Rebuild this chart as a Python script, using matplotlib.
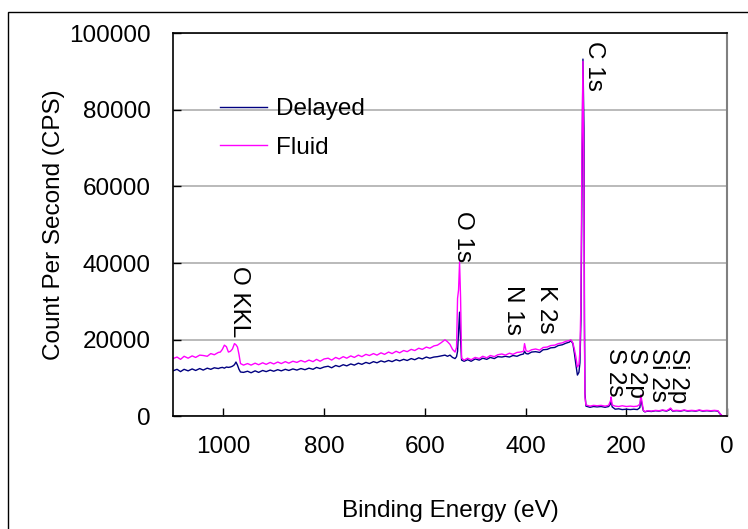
import matplotlib
matplotlib.use("Agg")
import matplotlib.pyplot as plt
from matplotlib.patches import Rectangle

plt.rcParams['font.family'] = ['Liberation Sans', 'DejaVu Sans']

# binding energy grid (eV), shared by both survey scans
binding_energy = [
    1100, 1092, 1085, 1078, 1070, 1062, 1055, 1047, 1040, 1032, 1025, 1018,
    1010, 1006, 1002, 998, 994, 990, 986, 982, 978, 975, 972, 969, 966, 960,
    952, 945, 937, 930, 922, 915, 907, 900, 892, 885, 877, 870, 862, 854,
    846, 838, 830, 822, 815, 808, 800, 792, 785, 777, 770, 762, 755, 747,
    740, 732, 725, 717, 710, 702, 695, 687, 680, 672, 665, 657, 650, 642,
    635, 627, 620, 612, 605, 597, 590, 582, 575, 568, 560, 555, 550, 545,
    540, 537, 535, 533, 531, 529, 527, 522, 515, 508, 500, 492, 485, 477,
    470, 462, 455, 447, 440, 432, 425, 417, 410, 404, 402, 399, 395, 388,
    380, 372, 365, 357, 350, 342, 335, 327, 320, 313, 310, 306, 303, 300,
    297, 294, 292, 290, 288, 286, 284, 283, 282, 280, 272, 265, 258, 250,
    242, 235, 231, 230, 228, 222, 215, 208, 200, 192, 185, 178, 173, 171,
    169, 166, 163, 158, 150, 142, 135, 128, 120, 115, 112, 108, 100, 92,
    85, 78, 70, 62, 55, 48, 40, 32, 25, 18, 14, 10, 8, 5, 0,
]

delayed_cps = [
    11900, 12300, 11700, 12300, 11900, 12400, 12000, 12500, 12100, 12600, 12300, 12700,
    12500, 12700, 12800, 12600, 12900, 12800, 12900, 13100, 13500, 14200, 13400, 12300, 11600, 11500,
    11800, 11400, 11900, 11500, 12000, 11700, 12100, 11800, 12200, 11900, 12300, 12000, 12400, 12100,
    12500, 12200, 12600, 12300, 12800, 12500, 12900, 13100, 12700, 13300, 13000, 13500, 13200, 13700,
    13400, 13900, 13600, 14100, 13800, 14300, 14000, 14500, 14200, 14600, 14300, 14800, 14500, 14900,
    14600, 15100, 14800, 15300, 15000, 15500, 15200, 15500, 15600, 15800, 16000, 15700, 16000, 15400,
    15100, 15600, 17000, 22000, 27200, 20000, 14700, 14400, 14800, 14400, 15000, 14700, 15200, 14900,
    15400, 15100, 15600, 15500, 15700, 15500, 15900, 15700, 16100, 16300, 17000, 16400, 16300, 16800,
    16900, 16700, 17400, 17500, 17900, 18000, 18500, 18700, 19100, 19400, 19800, 19000, 16500, 13500,
    10800, 11500, 14000, 25000, 60000, 93200, 75000, 25000, 6000, 2700, 2400, 2600, 2500, 2600,
    2400, 2600, 3300, 4000, 2500, 1900, 2000, 1800, 1900, 1800, 1900, 1800, 2300, 4800,
    3200, 1500, 1200, 1400, 1300, 1500, 1400, 1600, 1400, 1700, 2000, 1400, 1500, 1400,
    1600, 1400, 1500, 1400, 1600, 1400, 1500, 1400, 1500, 1400, 700, 200, 100, 100, 100,
]

fluid_cps = [
    15100, 15500, 14900, 15700, 15200, 15800, 15400, 16000, 15900, 15700, 16400, 16100,
    16700, 16800, 17500, 18600, 18200, 16800, 17000, 17600, 19000, 18700, 18100, 16200, 13800, 13400,
    13800, 13400, 13900, 13500, 14000, 13600, 14100, 13700, 14200, 13800, 14300, 13900, 14400, 14100,
    14600, 14200, 14700, 14300, 14900, 14400, 15000, 15200, 14700, 15400, 15000, 15600, 15200, 15800,
    15400, 16000, 15600, 16200, 15900, 16400, 16000, 16600, 16200, 16800, 16400, 17000, 16600, 17200,
    16900, 17500, 17200, 17800, 17500, 18100, 17800, 18400, 18600, 19200, 20000, 19500, 18800, 17500,
    16800, 18000, 30800, 33000, 40300, 31000, 15200, 14700, 15200, 14800, 15400, 15100, 15700, 15300,
    15900, 15600, 16100, 16300, 16000, 16500, 16200, 16700, 16800, 17000, 19000, 17200, 16900, 17400,
    17600, 17300, 18000, 18100, 18500, 18600, 19000, 19200, 19600, 19800, 20000, 19200, 17500, 15500,
    12900, 13500, 17000, 30000, 70000, 92600, 60000, 20000, 5000, 3000, 2700, 2900, 2800, 2900,
    2700, 2900, 4200, 5100, 3000, 2700, 2600, 2800, 2600, 2700, 2600, 2700, 3200, 5600,
    4000, 1600, 1250, 1500, 1400, 1600, 1500, 1700, 1500, 1900, 2200, 1500, 1600, 1500,
    1700, 1500, 1600, 1500, 1700, 1500, 1600, 1500, 1600, 1500, 800, 200, 100, 100, 100,
]

# peak assignments: (label, energy of text centre, top of text in CPS)
peak_labels = [
    ("C 1s", 264, 97800),
    ("O 1s", 524, 53500),
    ("O KKL", 968, 39300),
    ("N 1s", 424, 34300),
    ("K 2s", 360, 34300),
    ("S 2s", 223, 17800),
    ("S 2p", 180, 17800),
    ("Si 2s", 137, 17800),
    ("Si 2p", 97, 17800),
]

FS = 17.5

fig = plt.figure(figsize=(7.48, 5.29), dpi=100)
ax = fig.add_axes([0.2313, 0.2127, 0.7406, 0.7249])

# outer chart border
fig.patches.append(Rectangle((8 / 748, -0.1), 1.2, 0.977 + 0.1, transform=fig.transFigure,
                             fill=False, edgecolor='black', linewidth=1.0, clip_on=False))

ax.plot(binding_energy, delayed_cps, color='#000080', linewidth=1.0, label='Delayed')
ax.plot(binding_energy, fluid_cps, color='#ff00ff', linewidth=1.0, label='Fluid')

ax.set_xlim(1100, 0)
ax.set_ylim(0, 100000)
ax.set_xticks([1000, 800, 600, 400, 200, 0])
ax.set_yticks([0, 20000, 40000, 60000, 80000, 100000])
ax.yaxis.grid(True, color='#b4b4b4', linewidth=1.3)
ax.set_axisbelow(True)

ax.tick_params(axis='both', direction='in', length=6, width=1, labelsize=FS, pad=16)
ax.tick_params(axis='x', pad=14)
for side in ['left', 'bottom', 'top']:
    ax.spines[side].set_color('black')
    ax.spines[side].set_linewidth(1.2)
ax.spines['right'].set_color('#808080')
ax.spines['right'].set_linewidth(1.5)

ax.set_xlabel('Binding Energy (eV)', fontsize=FS, labelpad=30)
ax.set_ylabel('Count Per Second (CPS)', fontsize=FS, labelpad=3)

for text, e, c in peak_labels:
    ax.text(e, c, text, rotation=-90, ha='center', va='top', fontsize=FS)

ax.legend(loc='upper left', bbox_to_anchor=(0.085, 0.830), frameon=False, fontsize=FS,
          handlelength=1.93, handletextpad=0.37, labelspacing=0.68, borderpad=0,
          borderaxespad=0)

fig.savefig('out.png', dpi=100)
